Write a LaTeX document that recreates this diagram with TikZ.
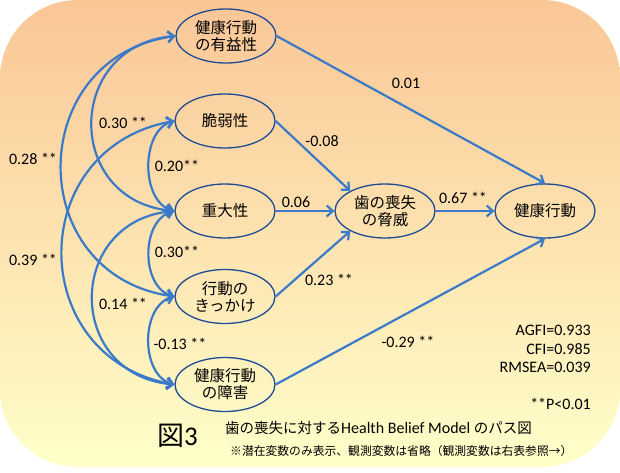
\documentclass[tikz,border=0pt]{standalone}
\usepackage{fontspec}
\setmainfont{Carlito}
\newfontfamily\cjk{Noto Sans CJK JP}
\usetikzlibrary{arrows.meta,shapes.geometric}
\definecolor{bgtop}{RGB}{250,198,150}
\definecolor{bgmid}{RGB}{255,240,156}
\definecolor{bgbot}{RGB}{255,255,202}
\definecolor{edgeblue}{RGB}{30,75,150}
\definecolor{arrowblue}{RGB}{58,122,200}
\begin{document}
\begin{tikzpicture}[x=1pt,y=1pt,
  var/.style={ellipse, draw=edgeblue, line width=1.3pt, minimum width=100pt, minimum height=54pt, inner sep=0pt, align=center, font=\cjk\fontsize{15.5}{17}\selectfont},
  causal/.style={draw=arrowblue, line width=2.2pt, -{Straight Barb[length=6pt,width=11pt]}},
  corr/.style={draw=arrowblue, line width=2.2pt, {Straight Barb[length=6pt,width=11pt]}-{Straight Barb[length=6pt,width=11pt]}},
  coef/.style={font=\fontsize{16}{19}\selectfont, inner sep=0pt},
]
\useasboundingbox (0,0) rectangle (620,472);
\shade[top color=bgtop, middle color=bgmid, bottom color=bgbot, rounded corners=78pt] (0,5) rectangle (620,472);

% latent variables
\node[var] (A) at (226,436) {健康行動\\の有益性};
\node[var] (B) at (225,351) {脆弱性};
\node[var] (C) at (225,261) {重大性};
\node[var] (D) at (225,175.5) {行動の\\きっかけ};
\node[var] (E) at (225,87.5) {健康行動\\の障害};
\node[var] (T) at (385,261) {歯の喪失\\の脅威};
\node[var] (H) at (545,261) {健康行動};

% paths
\draw[causal] (A.east) -- (H.north);
\draw[causal] (B.east) -- (T.150);
\draw[causal] (C.east) -- (T.west);
\draw[causal] (D.east) -- (T.210);
\draw[causal] (T.east) -- (H.west);
\draw[causal] (E.east) -- (H.south);

% correlations
\draw[corr] (A.west) to[out=185,in=175,looseness=1.62] (C.west);
\draw[corr] (B.west) to[out=195,in=165,looseness=1.0] (C.west);
\draw[corr] (A.west) to[out=188,in=172,looseness=1.5] (D.west);
\draw[corr] (B.west) to[out=190,in=170,looseness=1.48] (E.west);
\draw[corr] (C.west) to[out=195,in=165,looseness=1.05] (D.west);
\draw[corr] (C.west) to[out=185,in=175,looseness=1.62] (E.west);
\draw[corr] (D.west) to[out=195,in=165,looseness=1.03] (E.west);

% coefficients
\node[coef] (l01) at (406,389) {0.01};
\node[coef] (l08) at (322,331) {-0.08};
\node[coef] (l06) at (296,270) {0.06};
\node[coef] (l67) at (463,274) {0.67 **};
\node[coef] (l23) at (329,192) {0.23 **};
\node[coef] (l29) at (408,130) {-0.29 **};
\node[coef] (l30a) at (123,349) {0.30 **};
\node[coef] (l20) at (177,306) {0.20**};
\node[coef] (l28) at (33,313) {0.28 **};
\node[coef] (l39) at (33,212) {0.39 **};
\node[coef] (l30b) at (177,220) {0.30**};
\node[coef] (l14) at (123,168) {0.14 **};
\node[coef] (l13) at (180,128) {-0.13 **};

% fit indices
\node[coef, anchor=east] (agfi) at (591,142) {AGFI=0.933};
\node[coef, anchor=east] (cfi) at (591,123) {CFI=0.985};
\node[coef, anchor=east] (rmsea) at (591,104.5) {RMSEA=0.039};
\node[coef, anchor=east] (pval) at (591,68) {**P<0.01};

% captions
\node[anchor=west, inner sep=0pt, font=\fontsize{27}{30}\selectfont] (fig) at (157,36) {{\cjk 図}3};
\node[anchor=west, inner sep=0pt, font=\fontsize{16}{19}\selectfont] (title) at (225,44) {{\cjk\fontsize{14.5}{18}\selectfont 歯の喪失に対する}Health Belief Model {\cjk\fontsize{14.5}{18}\selectfont のパス図}};
\node[anchor=west, inner sep=0pt, font=\cjk\fontsize{11.8}{14}\selectfont] (note) at (230,21) {※潜在変数のみ表示、観測変数は省略（観測変数は右表参照→）};
\end{tikzpicture}
\end{document}
